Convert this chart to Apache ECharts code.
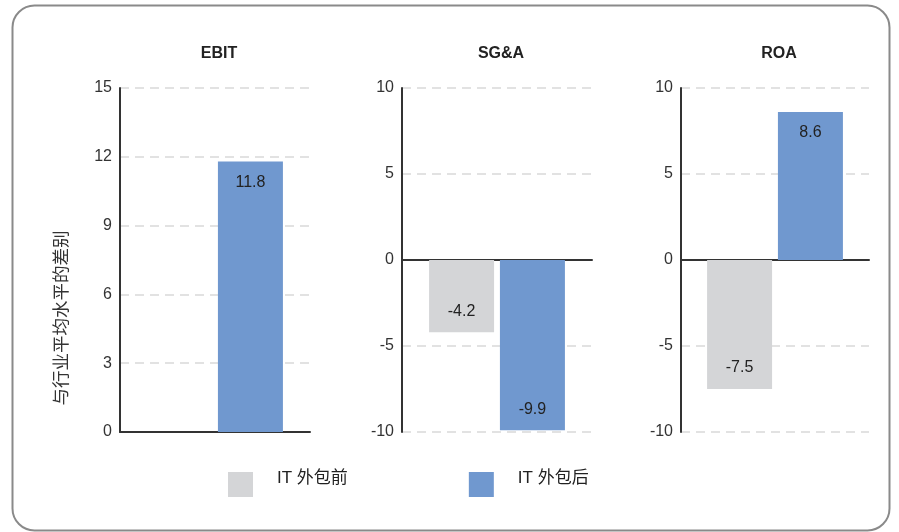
<!DOCTYPE html>
<html>
<head>
<meta charset="utf-8">
<script src="https://cdn.jsdelivr.net/npm/echarts@6/dist/echarts.min.js"></script>
<style>
  html, body { margin: 0; padding: 0; background: #fff; }
  #chart { width: 899px; height: 532px; }
</style>
</head>
<body>
<div id="chart"></div>
<script>
const panels = ['EBIT', 'SG&A', 'ROA']
const seriesNames = ['IT 外包前', 'IT 外包后']
// before / after outsourcing, per panel
const beforeValues = [null, -4.2, -7.5]
const afterValues = [11.8, -9.9, 8.6]
const axisMin = [0, -10, -10]
const axisMax = [15, 10, 10]
const axisStep = [3, 5, 5]
const yAxisTitle = '与行业平均水平的差别'

const COLORS = ['#d4d5d7', '#7098cf']
const FONT = '"Liberation Sans", Arial, "Noto Sans CJK SC", sans-serif'
const gridLeft = [120, 402, 681]
const gridWidth = [190, 190, 188]

const chart = echarts.init(document.getElementById('chart'))

function labelFor(v) {
  return {
    show: true,
    position: v >= 0 ? 'insideTop' : 'insideBottom',
    distance: 13,
    color: '#222',
    fontSize: 16,
    fontFamily: FONT,
    formatter: (p) => p.value.toFixed(1)
  }
}

const grids = panels.map((p, i) => ({
  left: gridLeft[i], width: gridWidth[i], top: 88, height: 344
}))

const titles = panels.map((p, i) => ({
  text: p,
  left: gridLeft[i] + gridWidth[i] / 2 - 1,
  top: 41,
  textAlign: 'center',
  textStyle: { fontSize: 16, fontWeight: 'bold', color: '#222', fontFamily: FONT }
}))

const xAxes = panels.map((p, i) => ({
  type: 'category',
  gridIndex: i,
  data: [p],
  axisLine: { onZero: true, lineStyle: { color: '#333', width: 2 } },
  axisTick: { show: false },
  axisLabel: { show: false }
}))

const yAxes = panels.map((p, i) => ({
  type: 'value',
  gridIndex: i,
  min: axisMin[i],
  max: axisMax[i],
  interval: axisStep[i],
  axisLine: { show: true, lineStyle: { color: '#333', width: 2 } },
  axisTick: { show: false },
  axisLabel: { fontSize: 16, color: '#333', margin: 8, fontFamily: FONT },
  splitLine: { lineStyle: { color: '#d9d9d9', width: 1.5, type: [9, 6] } }
}))

const series = []
panels.forEach((p, i) => {
  series.push({
    name: seriesNames[0],
    type: 'bar',
    xAxisIndex: i,
    yAxisIndex: i,
    barWidth: 65,
    barGap: '9%',
    itemStyle: { color: COLORS[0] },
    data: [beforeValues[i] == null ? null : { value: beforeValues[i], label: labelFor(beforeValues[i]) }]
  })
  series.push({
    name: seriesNames[1],
    type: 'bar',
    xAxisIndex: i,
    yAxisIndex: i,
    barWidth: 65,
    barGap: '9%',
    itemStyle: { color: COLORS[1] },
    data: [{ value: afterValues[i], label: labelFor(afterValues[i]) }]
  })
})

chart.setOption({
  animation: false,
  backgroundColor: '#fff',
  title: titles,
  grid: grids,
  xAxis: xAxes,
  yAxis: yAxes,
  legend: {
    data: seriesNames,
    left: 228,
    top: 470,
    padding: 0,
    icon: 'rect',
    itemWidth: 25,
    itemHeight: 25,
    itemGap: 121,
    selectedMode: false,
    formatter: '{t|{name}}',
    textStyle: {
      fontSize: 17,
      color: '#222',
      fontFamily: FONT,
      rich: {
        t: { fontSize: 17, color: '#222', fontFamily: FONT, padding: [0, 0, 12, 19] }
      }
    }
  },
  graphic: [
    {
      type: 'rect',
      shape: { x: 12.5, y: 5.5, width: 877, height: 525, r: 22 },
      style: { fill: 'none', stroke: '#8a8a8a', lineWidth: 2 },
      silent: true
    },
    {
      type: 'text',
      x: 60,
      y: 318,
      rotation: Math.PI / 2,
      style: {
        text: yAxisTitle,
        fontSize: 17.5,
        fill: '#333',
        fontFamily: '"Noto Sans CJK SC", sans-serif',
        align: 'center',
        verticalAlign: 'middle'
      }
    }
  ],
  series
})
</script>
</body>
</html>
